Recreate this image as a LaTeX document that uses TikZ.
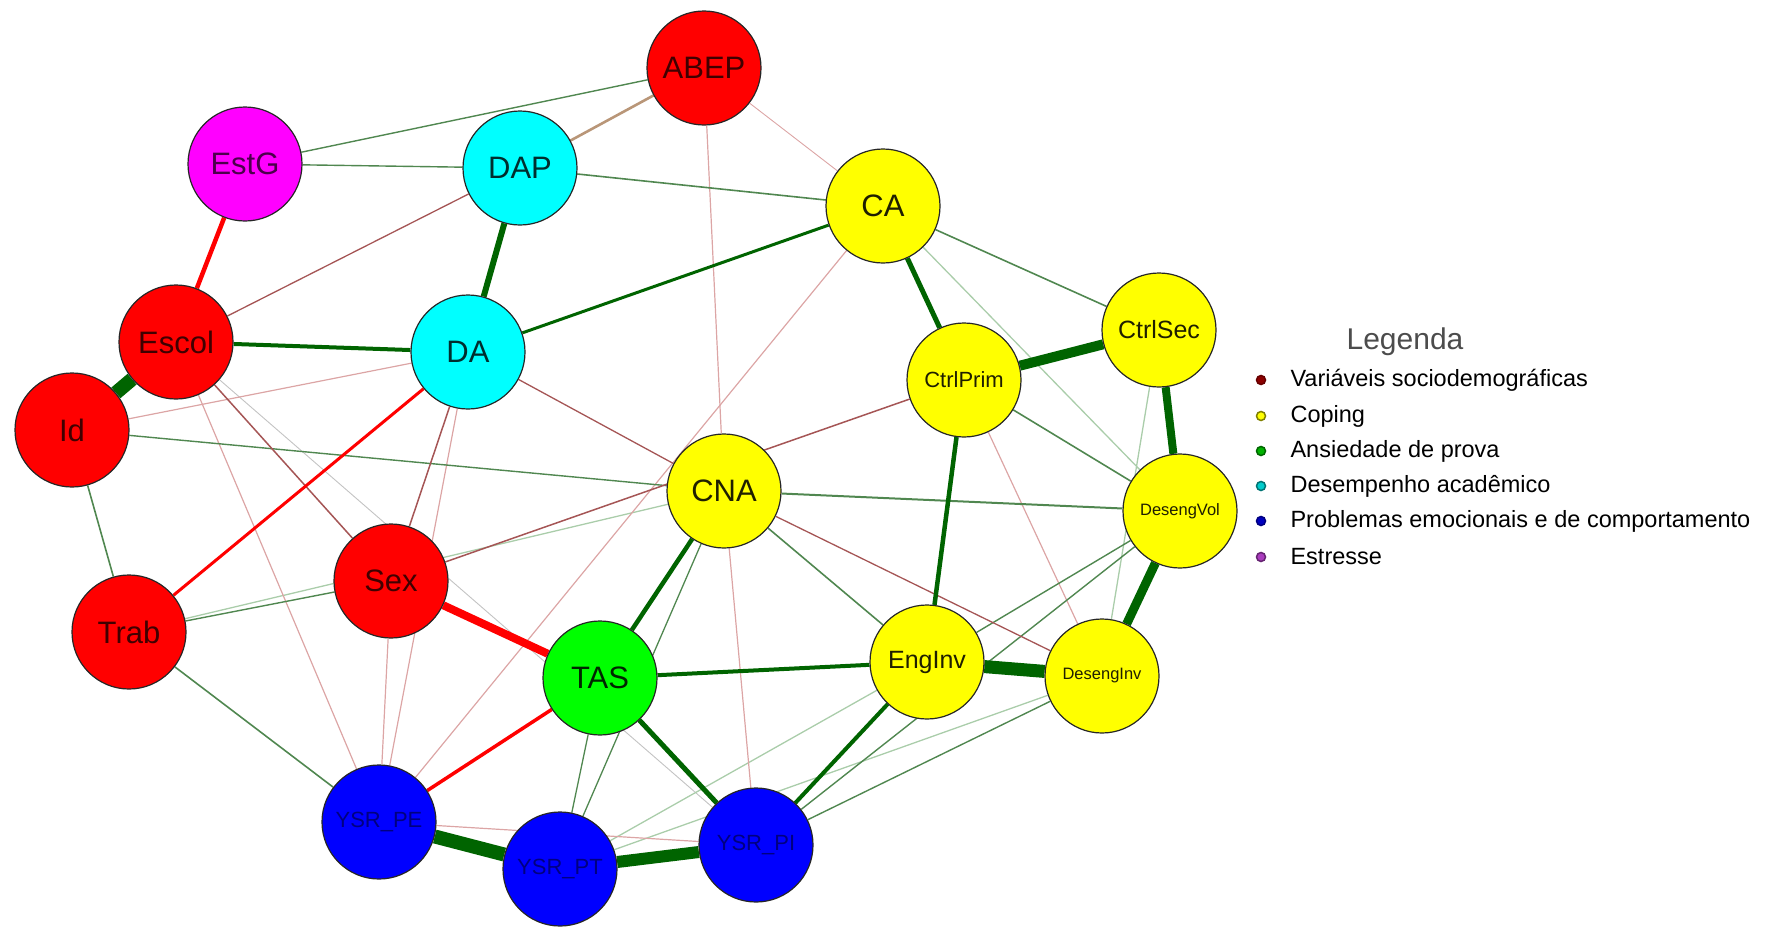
\documentclass[tikz,border=0pt]{standalone}
\usepackage{fontspec}
\setmainfont{Liberation Sans}
\usetikzlibrary{backgrounds}
\definecolor{dg}{RGB}{0,100,0}
\definecolor{gf}{RGB}{80,135,80}
\definecolor{gff}{RGB}{170,205,170}
\definecolor{gy}{RGB}{195,195,195}
\definecolor{nb}{RGB}{165,85,85}
\definecolor{np}{RGB}{220,165,165}
\definecolor{ntan}{RGB}{185,150,120}
\definecolor{vred}{RGB}{255,0,0}
\definecolor{vmag}{RGB}{255,0,255}
\definecolor{vcyan}{RGB}{0,255,255}
\definecolor{vyel}{RGB}{255,255,0}
\definecolor{vgrn}{RGB}{0,255,0}
\definecolor{vblue}{RGB}{0,0,255}
\definecolor{vpurp}{RGB}{170,60,190}
\tikzset{
  vn/.style={circle, draw=black!85, line width=1.2pt, minimum size=114pt, inner sep=0pt},
  big/.style={font=\fontsize{31}{31}\selectfont},
  mid/.style={font=\fontsize{25}{25}\selectfont},
  sml/.style={font=\fontsize{22}{22}\selectfont},
  tiny/.style={font=\fontsize{16.5}{16.5}\selectfont},
  rnode/.style={vn, fill=vred, text=vred!25!black},
  mnode/.style={vn, fill=vmag, text=vmag!30!black},
  cnode/.style={vn, fill=vcyan, text=vcyan!18!black},
  ynode/.style={vn, fill=vyel, text=vyel!12!black},
  gnode/.style={vn, fill=vgrn, text=vgrn!15!black},
  bnode/.style={vn, fill=vblue, text=vblue!50!black},
  pe/.style={draw=dg},
  pf/.style={draw=gf, line width=1.6pt},
  pff/.style={draw=gff, line width=1.3pt},
  ne/.style={draw=vred},
  nf/.style={draw=nb, line width=1.5pt},
  nff/.style={draw=np, line width=1.2pt},
  legtxt/.style={anchor=west, font=\fontsize{23.5}{23.5}\selectfont},
  legdot/.style={circle, minimum size=9pt, inner sep=0pt, line width=1.5pt}
}
\begin{document}
\begin{tikzpicture}[x=1pt,y=-1pt]
\useasboundingbox (0,0) rectangle (1774,926);
% nodes
\node[rnode, big] (ABEP) at (704,68) {ABEP};
\node[mnode, big] (EstG) at (245,164) {EstG};
\node[cnode, big] (DAP) at (520,168) {DAP};
\node[ynode, big] (CA) at (883,206) {CA};
\node[rnode, big] (Escol) at (176,342) {Escol};
\node[cnode, big] (DA) at (468,352) {DA};
\node[ynode, sml] (CtrlPrim) at (964,380) {CtrlPrim};
\node[ynode, mid] (CtrlSec) at (1159,330) {CtrlSec};
\node[rnode, big] (Id) at (72,430) {Id};
\node[ynode, big] (CNA) at (724,491) {CNA};
\node[ynode, tiny] (DesengVol) at (1180,511) {DesengVol};
\node[rnode, big] (Sex) at (391,581) {Sex};
\node[rnode, big] (Trab) at (129,632) {Trab};
\node[gnode, big] (TAS) at (600,678) {TAS};
\node[ynode, mid] (EngInv) at (927,662) {EngInv};
\node[ynode, tiny] (DesengInv) at (1102,676) {DesengInv};
\node[bnode, sml] (YSRPE) at (379,822) {YSR\_PE};
\node[bnode, sml] (YSRPT) at (560,869) {YSR\_PT};
\node[bnode, sml] (YSRPI) at (756,845) {YSR\_PI};
% edges
\begin{pgfonlayer}{background}
% very faint
\draw[draw=gy, line width=0.9pt] (Escol) -- (YSRPI);
\draw[nff, line width=0.9pt] (ABEP) -- (CA);
\draw[pff] (CA) -- (DesengVol);
\draw[pff] (Trab) -- (CNA);
\draw[pff] (DesengInv) -- (YSRPT);
\draw[pff] (EngInv) -- (YSRPT);
\draw[pff] (CtrlSec) -- (DesengInv);
\draw[nff] (CNA) -- (YSRPI);
\draw[nff] (YSRPE) -- (YSRPI);
\draw[nff] (CA) -- (YSRPE);
\draw[nff] (ABEP) -- (CNA);
\draw[nff] (Escol) -- (YSRPE);
\draw[nff] (DA) -- (Id);
\draw[nff] (DA) -- (YSRPE);
\draw[nff] (Sex) -- (YSRPE);
\draw[nff] (CtrlPrim) -- (DesengInv);
% faint
\draw[pf] (DAP) -- (CA);
\draw[pf] (CA) -- (CtrlSec);
\draw[pf, line width=1.4pt] (EstG) -- (DAP);
\draw[pf, line width=1.4pt] (EstG) -- (ABEP);
\draw[pf] (Id) -- (Trab);
\draw[pf, line width=1.4pt] (Id) -- (CNA);
\draw[pf, line width=1.4pt] (Trab) -- (Sex);
\draw[pf] (Trab) -- (YSRPE);
\draw[pf, line width=2pt] (CNA) -- (DesengVol);
\draw[pf] (CNA) -- (EngInv);
\draw[pf, line width=1.3pt] (CNA) -- (YSRPT);
\draw[pf, line width=1.3pt] (TAS) -- (YSRPT);
\draw[pf] (CtrlPrim) -- (DesengVol);
\draw[pf, line width=1.4pt] (DesengVol) -- (EngInv);
\draw[pf, line width=1.4pt] (DesengVol) -- (YSRPI);
\draw[pf, line width=1.4pt] (DesengInv) -- (YSRPI);
\draw[draw=ntan, line width=2.6pt] (ABEP) -- (DAP);
\draw[nf, line width=1.3pt] (Escol) -- (DAP);
\draw[nf] (Escol) -- (Sex);
\draw[nf, line width=1.3pt] (DA) -- (CNA);
\draw[nf] (DA) -- (Sex);
\draw[nf] (Sex) -- (CtrlPrim);
\draw[nf, line width=1.3pt] (CNA) -- (DesengInv);
% strong
\draw[pe, line width=14pt] (Escol) -- (Id);
\draw[pe, line width=14pt] (YSRPE) -- (YSRPT);
\draw[pe, line width=12pt] (YSRPT) -- (YSRPI);
\draw[pe, line width=13pt] (EngInv) -- (DesengInv);
\draw[pe, line width=10pt] (CtrlPrim) -- (CtrlSec);
\draw[pe, line width=8pt] (CtrlSec) -- (DesengVol);
\draw[pe, line width=9pt] (DesengVol) -- (DesengInv);
\draw[pe, line width=6pt] (DAP) -- (DA);
\draw[pe, line width=5pt] (TAS) -- (YSRPI);
\draw[pe, line width=4.5pt] (TAS) -- (CNA);
\draw[pe, line width=4pt] (TAS) -- (EngInv);
\draw[pe, line width=5pt] (CA) -- (CtrlPrim);
\draw[pe, line width=4.5pt] (CtrlPrim) -- (EngInv);
\draw[pe, line width=4pt] (EngInv) -- (YSRPI);
\draw[pe, line width=4pt] (Escol) -- (DA);
\draw[pe, line width=3pt] (DA) -- (CA);
\draw[ne, line width=8pt] (Sex) -- (TAS);
\draw[ne, line width=4.5pt] (EstG) -- (Escol);
\draw[ne, line width=3pt] (DA) -- (Trab);
\draw[ne, line width=3.5pt] (TAS) -- (YSRPE);
\end{pgfonlayer}
% legend
\node[font=\fontsize{30}{30}\selectfont, text=black!70] (leg) at (1405,342) {Legenda};
\node[legdot, fill=vred!55!black, draw=vred!40!black] (d1) at (1261,380) {};
\node[legtxt] (l1) at (1287,380) {Variáveis sociodemográficas};
\node[legdot, fill=vyel, draw=vyel!50!black] (d2) at (1261,416) {};
\node[legtxt] (l2) at (1287,416) {Coping};
\node[legdot, fill=vgrn!70!black, draw=vgrn!40!black] (d3) at (1261,451) {};
\node[legtxt] (l3) at (1287,451) {Ansiedade de prova};
\node[legdot, fill=vcyan!80!black, draw=vcyan!45!black] (d4) at (1261,486) {};
\node[legtxt] (l4) at (1287,486) {Desempenho acadêmico};
\node[legdot, fill=vblue!75!black, draw=vblue!50!black] (d5) at (1261,521) {};
\node[legtxt] (l5) at (1287,521) {Problemas emocionais e de comportamento};
\node[legdot, fill=vpurp, draw=vpurp!60!black] (d6) at (1261,557) {};
\node[legtxt] (l6) at (1287,557) {Estresse};
\end{tikzpicture}
\end{document}
